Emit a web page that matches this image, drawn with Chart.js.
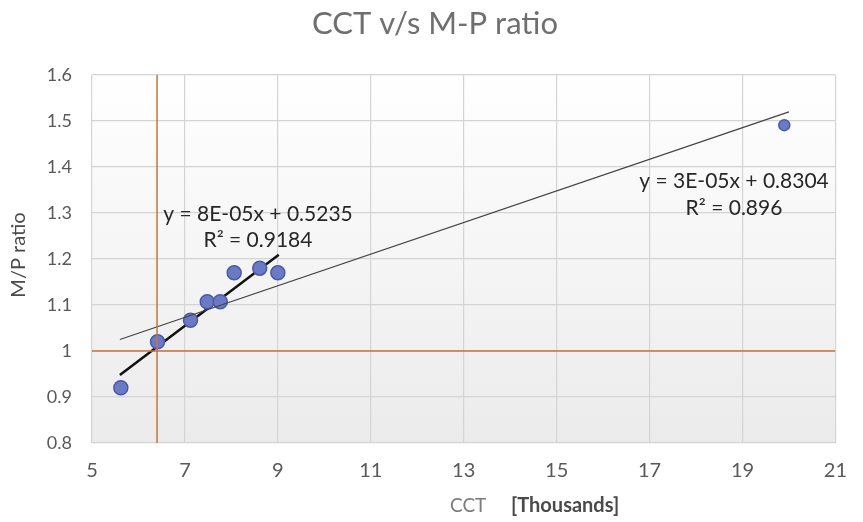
<!DOCTYPE html>
<html>
<head>
<meta charset="utf-8">
<script src="https://cdn.jsdelivr.net/npm/chart.js@4/dist/chart.umd.min.js"></script>
<style>
  html, body { margin: 0; padding: 0; background: #fff; }
  #wrap { width: 863px; height: 522px; }
</style>
</head>
<body>
<div id="wrap"><canvas id="chart" width="863" height="522"></canvas></div>
<script>
// CCT in thousands, M/P ratio
const cct = [5.62, 6.41, 7.12, 7.48, 7.76, 8.06, 8.61, 9.0, 19.9];
const mpRatio = [0.92, 1.02, 1.067, 1.107, 1.107, 1.17, 1.18, 1.17, 1.491];
const pointSizes = [7, 7, 7, 7, 7, 7, 7, 7, 5.5];

// trend line ends as drawn
const trendAllX = [5.6, 20.0];
const trendAllY = [1.025, 1.52];
const trendLowX = [5.6, 9.02];
const trendLowY = [0.948, 1.209];

// reference lines
const refCct = 6.4;
const refRatio = 1.0;

const xTicks = [5, 7, 9, 11, 13, 15, 17, 19, 21];
const yTicks = [0.8, 0.9, 1, 1.1, 1.2, 1.3, 1.4, 1.5, 1.6];

const toPts = (xs, ys) => xs.map((x, i) => ({ x: x, y: ys[i] }));

const orange = '#c8733c';
const font = 'Lato, "Open Sans", sans-serif';

const bgPlugin = {
  id: 'plotBg',
  beforeDraw(chart) {
    const { ctx, chartArea: a } = chart;
    const g = ctx.createLinearGradient(0, a.top, 0, a.bottom);
    g.addColorStop(0, '#ffffff');
    g.addColorStop(1, '#ebebeb');
    ctx.save();
    ctx.fillStyle = g;
    ctx.fillRect(a.left, a.top, a.right - a.left, a.bottom - a.top);
    ctx.restore();
  }
};

const textPlugin = {
  id: 'texts',
  afterDraw(chart) {
    const ctx = chart.ctx;
    ctx.save();
    ctx.textBaseline = 'middle';
    ctx.textAlign = 'center';
    // title
    ctx.fillStyle = '#6f6f6f';
    ctx.font = '31px ' + font;
    ctx.fillText('CCT v/s M-P ratio', 435, 24);
    // y title
    ctx.save();
    ctx.translate(19, 255);
    ctx.rotate(-Math.PI / 2);
    ctx.fillStyle = '#4a4a4a';
    ctx.font = '20px ' + font;
    ctx.fillText('M/P ratio', 0, 0);
    ctx.restore();
    // x title
    ctx.textAlign = 'left';
    ctx.fillStyle = '#7a7a7a';
    ctx.font = '19px ' + font;
    ctx.fillText('CCT', 450, 506);
    ctx.fillStyle = '#4a4a4a';
    ctx.font = 'bold 20px ' + font;
    ctx.fillText('[Thousands]', 511, 506);
    // trend labels
    ctx.textAlign = 'center';
    ctx.fillStyle = '#262626';
    ctx.font = '21px ' + font;
    ctx.fillText('y = 8E-05x + 0.5235', 258, 214);
    ctx.fillText('R\u00b2 = 0.9184', 258, 240);
    ctx.fillText('y = 3E-05x + 0.8304', 734, 181);
    ctx.fillText('R\u00b2 = 0.896', 734, 208);
    ctx.restore();
  }
};

new Chart(document.getElementById('chart'), {
  type: 'scatter',
  data: {
    datasets: [
      {
        label: 'ref x',
        data: toPts([refCct, refCct], [0.8, 1.6]),
        showLine: true, borderColor: orange, borderWidth: 1.5, pointRadius: 0
      },
      {
        label: 'ref y',
        data: toPts([5, 21], [refRatio, refRatio]),
        showLine: true, borderColor: orange, borderWidth: 1.5, pointRadius: 0
      },
      {
        label: 'trend all',
        data: toPts(trendAllX, trendAllY),
        showLine: true, borderColor: '#444444', borderWidth: 1.3, pointRadius: 0
      },
      {
        label: 'M/P',
        data: toPts(cct, mpRatio),
        pointRadius: pointSizes,
        pointBackgroundColor: '#6a7bc4',
        pointBorderColor: '#4a5aa8',
        pointBorderWidth: 1.5
      },
      {
        label: 'trend low',
        data: toPts(trendLowX, trendLowY),
        showLine: true, borderColor: '#111111', borderWidth: 2.5, pointRadius: 0
      }
    ]
  },
  options: {
    responsive: false,
    animation: false,
    layout: { padding: { left: 0, right: 22, top: 75, bottom: 0 } },
    plugins: {
      legend: { display: false },
      tooltip: { enabled: false },
      title: { display: false }
    },
    scales: {
      x: {
        type: 'linear', min: 5, max: 21,
        afterBuildTicks: s => { s.ticks = xTicks.map(v => ({ value: v })); },
        afterFit: s => { s.height = 79; },
        grid: { color: '#d4d4d4', lineWidth: 1.2, drawTicks: false },
        border: { display: false },
        ticks: { padding: 16, color: '#595959', font: { family: font, size: 20 } }
      },
      y: {
        type: 'linear', min: 0.8, max: 1.6,
        afterBuildTicks: s => { s.ticks = yTicks.map(v => ({ value: v })); },
        afterFit: s => { s.width = 92; },
        grid: { color: '#d4d4d4', lineWidth: 1.2, drawTicks: false },
        border: { display: false },
        ticks: {
          padding: 20, color: '#595959', font: { family: font, size: 18 },
          callback: v => String(Math.round(v * 10) / 10)
        }
      }
    }
  },
  plugins: [bgPlugin, textPlugin]
});
</script>
</body>
</html>
